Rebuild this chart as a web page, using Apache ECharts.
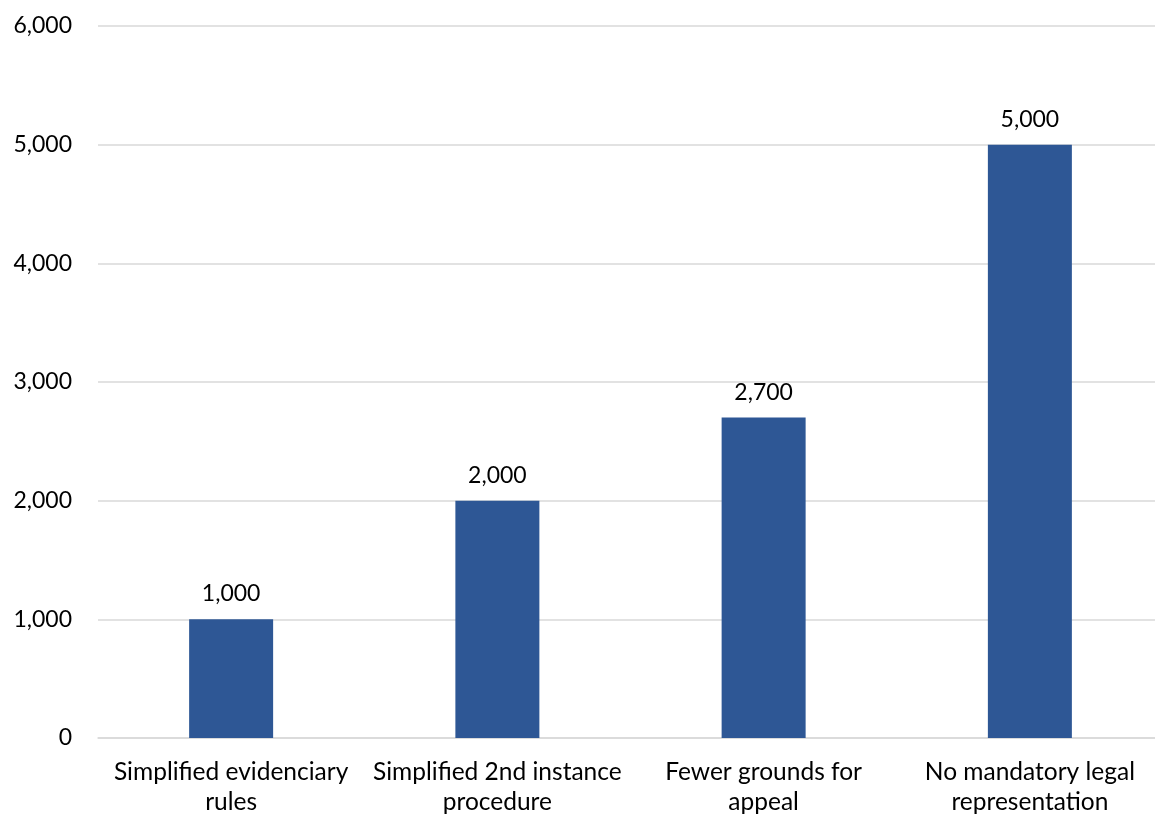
<!DOCTYPE html>
<html>
<head>
<meta charset="utf-8">
<script src="https://cdn.jsdelivr.net/npm/echarts@6/dist/echarts.min.js"></script>
<style>
  html, body { margin: 0; padding: 0; background: #fff; overflow: hidden; }
  /* canvas is a little wider than the window so the plot area runs past the right edge */
  #chart { width: 1163px; height: 817px; }
</style>
</head>
<body>
<div id="chart"></div>
<script>
// Procedural simplifications and their estimated effect
const categories = [
  'Simplified evidenciary\nrules',
  'Simplified 2nd instance\nprocedure',
  'Fewer grounds for\nappeal',
  'No mandatory legal\nrepresentation'
];
const values = [1000, 2000, 2700, 5000];
const yTicks = { min: 0, max: 6000, interval: 1000 };

const fmt = v => v.toLocaleString('en-US');
const FONT = 'Lato, "Open Sans", sans-serif';

const chart = echarts.init(document.getElementById('chart'), null, { renderer: 'canvas' });
chart.setOption({
  animation: false,
  backgroundColor: '#ffffff',
  grid: { left: 98, right: 0, top: 26, bottom: 79, containLabel: false },
  xAxis: {
    type: 'category',
    data: categories,
    axisLine: { show: true, lineStyle: { color: '#d9d9d9', width: 1.5 } },
    axisTick: { show: false },
    axisLabel: {
      color: '#000', fontFamily: FONT, fontSize: 24.5, lineHeight: 30,
      margin: 19, interval: 0
    }
  },
  yAxis: {
    type: 'value',
    min: yTicks.min, max: yTicks.max, interval: yTicks.interval,
    axisLine: { show: false },
    axisTick: { show: false },
    splitLine: { lineStyle: { color: '#d9d9d9', width: 1.5 } },
    axisLabel: {
      color: '#000', fontFamily: FONT, fontSize: 23, margin: 26,
      formatter: fmt
    }
  },
  series: [{
    type: 'bar',
    data: values,
    barWidth: 84,
    itemStyle: { color: '#2e5795' },
    label: {
      show: true, position: 'top', distance: 14,
      color: '#000', fontFamily: FONT, fontSize: 23,
      formatter: p => fmt(p.value)
    }
  }]
});
</script>
</body>
</html>
